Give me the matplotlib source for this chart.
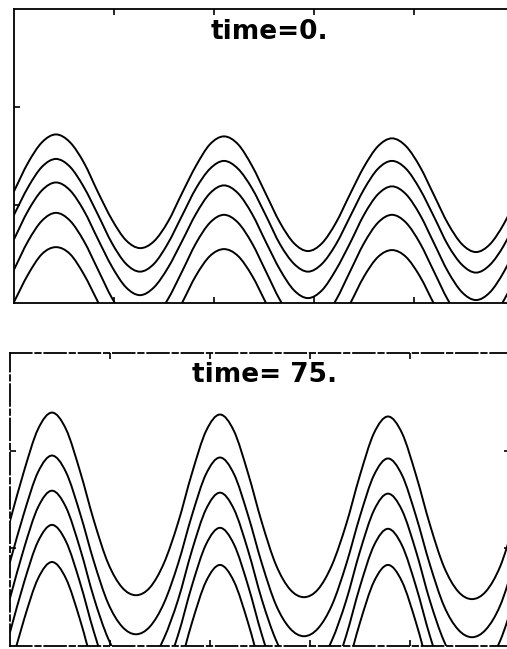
# two panels of wavy contour lines, time = 0 and time = 75

import numpy as np
import matplotlib.patches as patches
from matplotlib.path import Path
from matplotlib import pyplot as plt

#---- data

# x positions (same for both panels)
x = [0.00, 0.14, 0.28, 0.42, 0.56, 0.70, 0.84, 0.98, 1.12, 1.26, 1.40, 1.54,
     1.68, 1.82, 1.96, 2.10, 2.24, 2.38, 2.52, 2.66, 2.80, 2.94, 3.08, 3.22,
     3.36, 3.50, 3.64, 3.78, 3.92, 4.06, 4.20, 4.34, 4.48, 4.62, 4.76, 4.90,
     5.04]

# time = 0.
t0_c1 = [1.14, 1.43, 1.64, 1.72, 1.64, 1.43, 1.13, 0.85, 0.64, 0.56, 0.63, 0.83,
         1.12, 1.40, 1.62, 1.70, 1.62, 1.40, 1.11, 0.82, 0.61, 0.53, 0.61, 0.82,
         1.11, 1.39, 1.60, 1.68, 1.60, 1.39, 1.10, 0.81, 0.60, 0.52, 0.60, 0.81,
         1.10]
t0_c2 = [0.90, 1.18, 1.39, 1.47, 1.39, 1.18, 0.90, 0.61, 0.40, 0.32, 0.40, 0.61,
         0.89, 1.17, 1.37, 1.45, 1.37, 1.17, 0.89, 0.60, 0.40, 0.32, 0.40, 0.60,
         0.88, 1.16, 1.37, 1.45, 1.37, 1.16, 0.88, 0.59, 0.39, 0.31, 0.39, 0.59,
         0.88]
t0_c3 = [0.65, 0.94, 1.15, 1.23, 1.15, 0.94, 0.65, 0.37, 0.16, 0.08, 0.16, 0.36,
         0.63, 0.91, 1.12, 1.20, 1.12, 0.91, 0.62, 0.34, 0.13, 0.05, 0.13, 0.34,
         0.61, 0.90, 1.11, 1.19, 1.11, 0.90, 0.61, 0.32, 0.11, 0.03, 0.11, 0.32,
         0.61]
t0_c4 = [0.34, 0.63, 0.84, 0.92, 0.84, 0.63, 0.34, 0.05, -0.16, -0.24, -0.16, 0.04,
         0.32, 0.61, 0.82, 0.90, 0.82, 0.61, 0.32, 0.03, -0.18, -0.26, -0.18, 0.03,
         0.32, 0.61, 0.82, 0.90, 0.82, 0.61, 0.32, 0.03, -0.18, -0.26, -0.18, 0.03,
         0.32]
t0_c5 = [0.01, 0.29, 0.50, 0.57, 0.50, 0.29, 0.01, -0.27, -0.48, -0.55, -0.48, -0.27,
         0.00, 0.28, 0.48, 0.55, 0.48, 0.28, 0.00, -0.28, -0.49, -0.56, -0.49, -0.28,
         -0.01, 0.27, 0.47, 0.54, 0.47, 0.27, -0.01, -0.28, -0.49, -0.56, -0.49, -0.28,
         -0.01]

# time = 75.
t75_c1 = [1.28, 1.79, 2.22, 2.39, 2.22, 1.79, 1.28, 0.85, 0.60, 0.52, 0.60, 0.85,
          1.26, 1.77, 2.20, 2.37, 2.20, 1.77, 1.26, 0.83, 0.58, 0.50, 0.58, 0.83,
          1.24, 1.75, 2.18, 2.35, 2.18, 1.75, 1.24, 0.81, 0.56, 0.48, 0.56, 0.81,
          1.24]
t75_c2 = [0.86, 1.36, 1.78, 1.95, 1.78, 1.36, 0.86, 0.44, 0.20, 0.12, 0.20, 0.44,
          0.84, 1.34, 1.76, 1.93, 1.76, 1.34, 0.84, 0.42, 0.18, 0.10, 0.18, 0.42,
          0.83, 1.33, 1.75, 1.92, 1.75, 1.33, 0.83, 0.41, 0.17, 0.09, 0.17, 0.41,
          0.83]
t75_c3 = [0.49, 1.00, 1.42, 1.59, 1.42, 1.00, 0.49, 0.08, -0.17, -0.25, -0.17, 0.08,
          0.47, 0.98, 1.40, 1.57, 1.40, 0.98, 0.47, 0.06, -0.19, -0.27, -0.19, 0.06,
          0.46, 0.97, 1.39, 1.56, 1.39, 0.97, 0.46, 0.05, -0.20, -0.28, -0.20, 0.05,
          0.46]
t75_c4 = [0.14, 0.65, 1.07, 1.24, 1.07, 0.65, 0.14, -0.28, -0.52, -0.60, -0.52, -0.28,
          0.11, 0.62, 1.04, 1.21, 1.04, 0.62, 0.11, -0.31, -0.55, -0.63, -0.55, -0.31,
          0.10, 0.61, 1.03, 1.20, 1.03, 0.61, 0.10, -0.32, -0.56, -0.64, -0.56, -0.32,
          0.10]
t75_c5 = [-0.24, 0.27, 0.69, 0.86, 0.69, 0.27, -0.24, -0.66, -0.90, -0.98, -0.90, -0.66,
          -0.27, 0.24, 0.66, 0.83, 0.66, 0.24, -0.27, -0.69, -0.93, -1.01, -0.93, -0.69,
          -0.27, 0.24, 0.66, 0.83, 0.66, 0.24, -0.27, -0.69, -0.93, -1.01, -0.93, -0.69,
          -0.27]

titles = ['time=0.', 'time= 75.']
xticks = [1, 2, 3, 4]
yticks = [1, 2]


#---- smooth line through the read points (bezier path, drawn by matplotlib)

def smooth_line(ax, xs, ys):

    p = np.column_stack([xs, ys])
    # pad ends so every segment has neighbours
    p = np.vstack([p[0] - (p[1] - p[0]), p, p[-1] + (p[-1] - p[-2])])

    verts = [p[1]]
    codes = [Path.MOVETO]
    for i in range(1, len(p) - 2):
        c1 = p[i] + (p[i+1] - p[i-1]) / 6.
        c2 = p[i+1] - (p[i+2] - p[i]) / 6.
        verts += [c1, c2, p[i+1]]
        codes += [Path.CURVE4] * 3

    patch = patches.PathPatch(Path(verts, codes), fc='none', ec='k',
                              lw=1.4, capstyle='round')
    ax.add_patch(patch)


#---- define a function to plot one panel

def plot_panel(ax, curves, title, frame_ls):

    for yy in curves:
        smooth_line(ax, x, yy)

    ax.set_xlim(0, 5)
    ax.set_ylim(0, 3)

    ax.set_xticks(xticks)
    ax.set_yticks(yticks)
    ax.tick_params(which='both', direction='in', length=4, width=1.2,
                   top=True, right=True, labelbottom=False, labelleft=False)

    for sp in ax.spines.values():
        sp.set_linewidth(1.3)
        sp.set_linestyle(frame_ls)

    ax.text(2.55, 2.77, title, ha='center', va='center',
            fontsize=19, fontweight='bold', family='DejaVu Sans')
    return ax


#---- Script

if __name__ == '__main__':

    W, H = 507, 649
    fig = plt.figure(figsize=(W/100, H/100), dpi=100)

    # axes boxes in pixels: left, bottom, width, height
    ax1 = fig.add_axes([14/W, (H-303)/H, 500/W, 294/H])
    ax2 = fig.add_axes([10/W, 3/H, 500/W, 293/H])

    plot_panel(ax1, [t0_c1, t0_c2, t0_c3, t0_c4, t0_c5], titles[0], '-')
    plot_panel(ax2, [t75_c1, t75_c2, t75_c3, t75_c4, t75_c5], titles[1],
               (0, (12, 2, 3, 2)))

    plt.savefig('out.png', dpi=100)
